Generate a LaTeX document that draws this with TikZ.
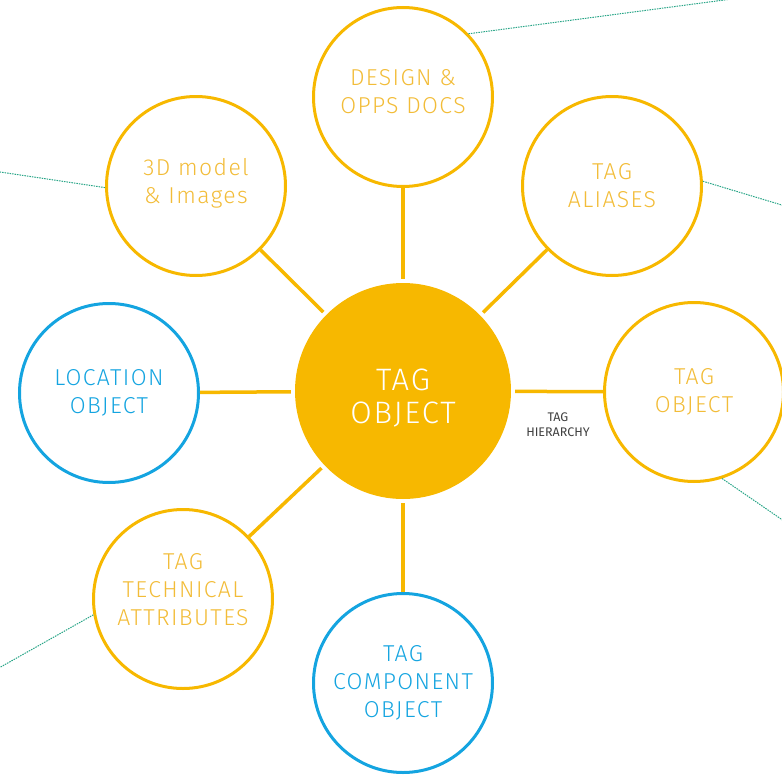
\documentclass[tikz,border=0pt]{standalone}
\usepackage{fontspec}
\setmainfont{Fira Sans Light}
\newfontfamily\tagfont{Fira Sans Light}[LetterSpace=6]
\newfontfamily\labelfont{Fira Sans}
\usetikzlibrary{positioning}
\definecolor{tagyellow}{RGB}{247,184,0}
\definecolor{tagtext}{RGB}{242,188,56}
\definecolor{tagblue}{RGB}{20,164,224}
\definecolor{linkteal}{RGB}{40,165,135}
\tikzstyle{mainnode} = [circle, minimum size=216pt, inner sep=0pt, align=center, fill=tagyellow, text=white, font=\tagfont\fontsize{31}{33}\selectfont]
\tikzstyle{tagnode} = [circle, minimum size=179pt, inner sep=0pt, align=center, line width=3pt, draw=tagyellow, text=tagtext, font=\tagfont\fontsize{23}{28}\selectfont]
\tikzstyle{objnode} = [tagnode, draw=tagblue, text=tagblue]
\tikzstyle{connector} = [line width=3.5pt, draw=tagyellow, shorten <=4pt]
\tikzstyle{link} = [line width=1pt, draw=linkteal, dash pattern=on 1.5pt off 1pt]

\begin{document}
\begin{tikzpicture}[x=1pt, y=-1pt]
  \useasboundingbox (0,0) rectangle (782,779);

  % Central node
  \node (tag) at (403,391) [mainnode] {\rule{0pt}{36pt}TAG\\OBJECT};

  % Surrounding nodes
  \node (docs) at (403,97) [tagnode] {DESIGN \&\\OPPS DOCS\rule[-12pt]{0pt}{0pt}};
  \node (model) at (196,186) [tagnode] {3D model\\\& Images\rule[-10pt]{0pt}{0pt}};
  \node (alias) at (612,186) [tagnode] {TAG\\ALIASES};
  \node (loc) at (109,393) [objnode] {LOCATION\\OBJECT};
  \node (parent) at (694,392) [tagnode] {TAG\\OBJECT};
  \node (attr) at (183,599) [tagnode] {TAG\\TECHNICAL\\ATTRIBUTES\rule[-20pt]{0pt}{0pt}};
  \node (comp) at (403,683) [objnode] {TAG\\COMPONENT\\OBJECT};

  % Arrows from center
  \draw[connector] (tag) -- (docs);
  \draw[connector] (tag) -- (model);
  \draw[connector] (tag) -- (alias);
  \draw[connector] (tag) -- (loc);
  \draw[connector] (tag) -- (parent);
  \draw[connector] (tag) -- (attr);
  \draw[connector] (tag) -- (comp);

  \node (hier) at (558,425) [text=black!75, align=center, font=\labelfont\fontsize{12.5}{15}\selectfont] {TAG\\HIERARCHY};

  % Links leaving the picture
  \coordinate (out1) at (800,-10);
  \coordinate (out2) at (-10,170.5);
  \coordinate (out3) at (800,210.5);
  \coordinate (out4) at (800,532);
  \coordinate (out5) at (-10,673);
  \draw[link] (docs.44) -- (out1);
  \draw[link] (model.181) -- (out2);
  \draw[link] (alias.3) -- (out3);
  \draw[link] (parent.-72) -- (out4);
  \draw[link] (attr.-170) -- (out5);

\end{tikzpicture}
\end{document}
